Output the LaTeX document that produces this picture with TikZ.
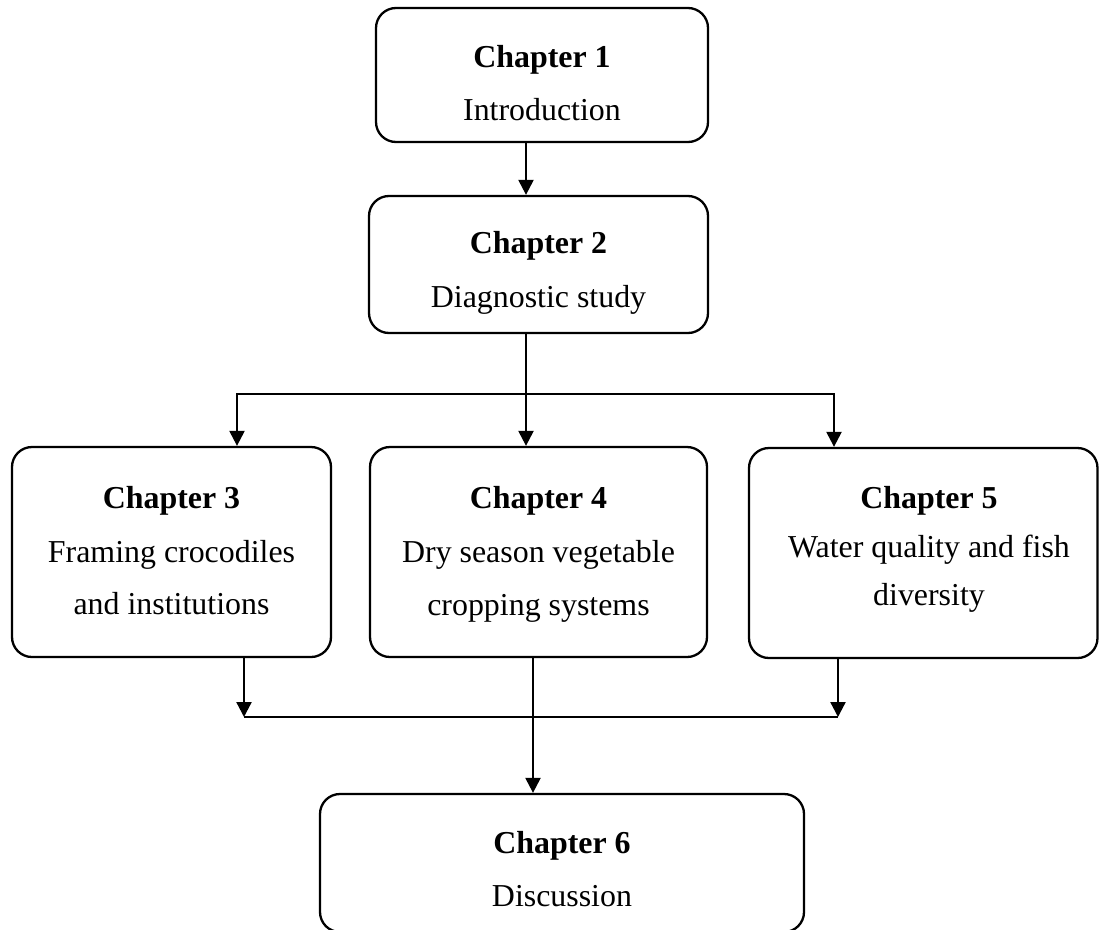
\documentclass[tikz,border=0pt]{standalone}
\usepackage{fontspec}
\setmainfont{Liberation Serif}
\usetikzlibrary{arrows.meta}
\tikzset{
  box/.style={draw, rounded corners=20pt, line width=2.3pt, inner sep=0pt},
  txt/.style={anchor=base, inner sep=0pt, font=\fontsize{31.9}{36}\selectfont},
  head/.style={txt, font=\fontsize{31.9}{36}\selectfont\bfseries},
  conn/.style={line width=2.3pt},
  arr/.style={conn, -{Triangle[length=15pt,width=15pt]}}
}
\begin{document}
\begin{tikzpicture}[x=1pt,y=-1pt]
\useasboundingbox (0,0) rectangle (1100,929);
% boxes
\node[box, minimum width=332pt, minimum height=134pt] (b1) at (542,75) {};
\node[box, minimum width=339pt, minimum height=137pt] (b2) at (538.5,264.5) {};
\node[box, minimum width=319pt, minimum height=210pt] (b3) at (171.5,552) {};
\node[box, minimum width=337pt, minimum height=210pt] (b4) at (538.5,552) {};
\node[box, minimum width=348.5pt, minimum height=210pt] (b5) at (923.25,553) {};
\node[box, minimum width=484pt, minimum height=138pt] (b6) at (562,863) {};
% texts
\node[head] (t1a) at (542,67) {Chapter 1};
\node[txt]  (t1b) at (542,120) {Introduction};
\node[head] (t2a) at (538.5,253) {Chapter 2};
\node[txt]  (t2b) at (538.5,307) {Diagnostic study};
\node[head] (t3a) at (171.5,508) {Chapter 3};
\node[txt]  (t3b) at (171.5,562) {Framing crocodiles};
\node[txt]  (t3c) at (171.5,614) {and institutions};
\node[head] (t4a) at (538.5,508) {Chapter 4};
\node[txt]  (t4b) at (538.5,562) {Dry season vegetable};
\node[txt]  (t4c) at (538.5,615) {cropping systems};
\node[head] (t5a) at (929,508) {Chapter 5};
\node[txt]  (t5b) at (929,557) {Water quality and fish};
\node[txt]  (t5c) at (929,605) {diversity};
\node[head] (t6a) at (562,853) {Chapter 6};
\node[txt]  (t6b) at (562,906) {Discussion};
% junction coordinates
\coordinate (xa) at (526,0);
\coordinate (xm) at (533,0);
\coordinate (j1) at (526,394);
\coordinate (jl) at (244,717);
\coordinate (jr) at (838,717);
\coordinate (xl) at (237,0);
\coordinate (xr) at (834,0);
% connectors
\draw[arr] (b1.south -| xa) -- (b2.north -| xa);
\draw[conn] (b2.south -| j1) -- (j1);
\draw[arr] (j1) -| (b3.north -| xl);
\draw[arr] (j1) -| (b5.north -| xr);
\draw[arr] (j1) -- (b4.north -| j1);
\draw[arr] (b3.south -| jl) -- (jl);
\draw[arr] (b5.south -| jr) -- (jr);
\draw[conn] (jl) -- (jr);
\draw[arr] (b4.south -| xm) -- (b6.north -| xm);
\end{tikzpicture}
\end{document}
